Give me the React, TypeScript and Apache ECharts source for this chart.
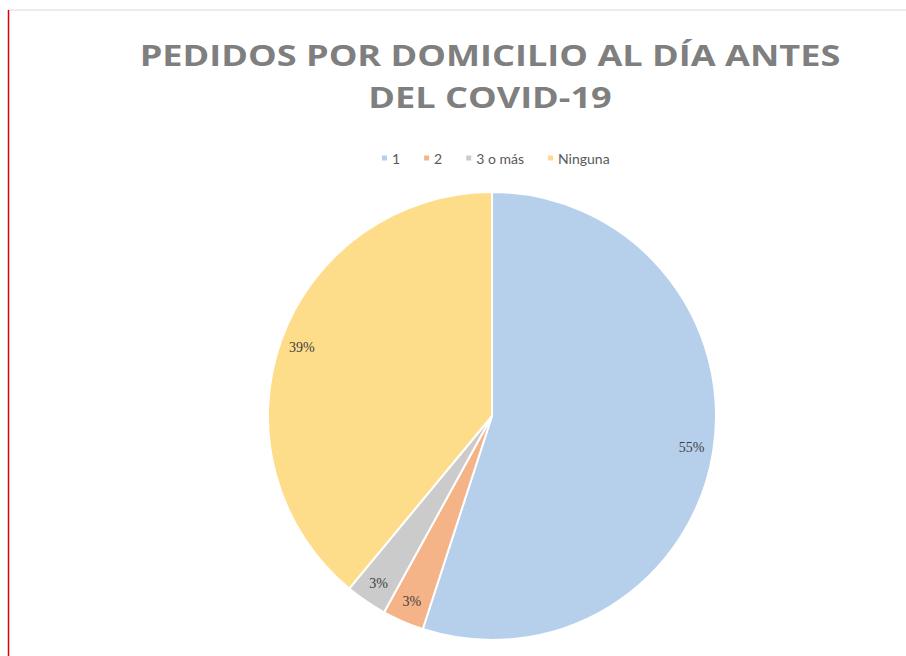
import React, { useEffect, useRef } from "react";
import * as echarts from "echarts";

const categories = ["1", "2", "3 o más", "Ninguna"];
const values = [55, 3, 3, 39];
const colors = ["#b6cfeb", "#f4b487", "#cbcbcb", "#fedd8a"];
const titleLines = ["PEDIDOS POR DOMICILIO AL DÍA ANTES", "DEL COVID-19"];

export default function App() {
  const ref = useRef<HTMLDivElement>(null);
  useEffect(() => {
    if (!ref.current) return;
    const chart = echarts.init(ref.current, null, { renderer: "svg" });
    const data = categories.map((c, i) => ({
      name: c,
      value: values[i],
      itemStyle: { color: colors[i] },
    }));
    const center = [492, 416];
    const R = 224;
    const titleStyle = {
      fill: "#7f7f7f",
      font: "bold 28px 'Open Sans', sans-serif",
      textAlign: "center",
      textVerticalAlign: "middle",
    };
    chart.setOption({
      animation: false,
      backgroundColor: "#ffffff",
      graphic: [
        { type: "line", shape: { x1: 8, y1: 10, x2: 906, y2: 10 }, style: { stroke: "#d9d9d9", lineWidth: 1 } },
        { type: "line", shape: { x1: 8.5, y1: 10, x2: 8.5, y2: 656 }, style: { stroke: "#e00000", lineWidth: 1.5 } },
        { type: "text", x: 490, y: 55, scaleX: 1.29, style: { ...titleStyle, text: titleLines[0] } },
        { type: "text", x: 490, y: 97, scaleX: 1.29, style: { ...titleStyle, text: titleLines[1] } },
      ],
      legend: {
        data: categories,
        top: 146,
        left: 375,
        itemWidth: 7,
        itemHeight: 7,
        itemGap: 22,
        icon: "rect",
        textStyle: { color: "#595959", fontSize: 14, fontFamily: "Lato", padding: [0, 0, 0, -1] },
      },
      series: [
        {
          type: "pie",
          center,
          radius: [0, R],
          startAngle: 90,
          clockwise: true,
          data,
          label: { show: false },
          labelLine: { show: false },
          itemStyle: { borderColor: "#ffffff", borderWidth: 2 },
          emphasis: { disabled: true },
        },
        {
          type: "pie",
          center,
          radius: [R - 50, R],
          startAngle: 90,
          clockwise: true,
          silent: true,
          data: categories.map((c, i) => ({ name: c, value: values[i], itemStyle: { color: "rgba(0,0,0,0)" } })),
          itemStyle: { borderWidth: 0 },
          label: {
            show: true,
            position: "inside",
            formatter: "{d}%",
            color: "#404040",
            fontSize: 14,
            fontFamily: "serif",
          },
          labelLine: { show: false },
          emphasis: { disabled: true },
        },
      ],
    });
    return () => chart.dispose();
  }, []);
  return (
    <div
      ref={ref}
      style={{ position: "absolute", left: 0, top: 0, width: 906, height: 656 }}
    />
  );
}
